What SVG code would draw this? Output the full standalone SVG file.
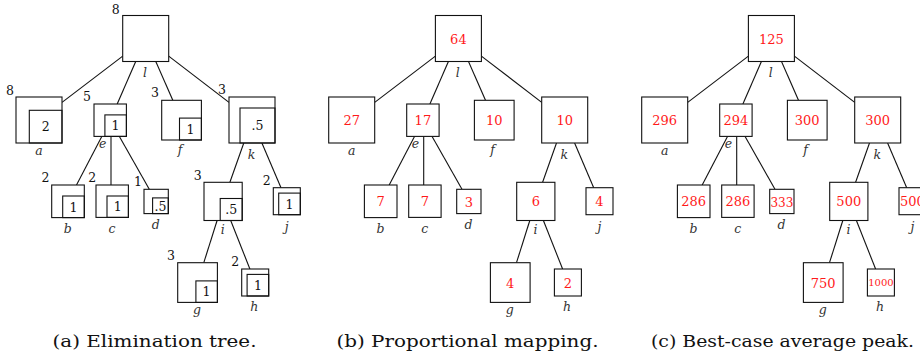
<svg xmlns="http://www.w3.org/2000/svg" width="920" height="360" viewBox="0 0 920 360" font-family="'DejaVu Serif', serif">
<style>
  .box{fill:#fff;stroke:#111;stroke-width:1.1}
  .inner{fill:none;stroke:#111;stroke-width:1.1}
  .edge{stroke:#111;stroke-width:1.1}
  .w{font-family:'DejaVu Serif',serif;font-size:12.5px;text-anchor:middle;fill:#111}
  .v{font-family:'DejaVu Serif',serif;font-size:12.5px;text-anchor:middle;fill:#111}
  .n{font-family:'DejaVu Serif',serif;font-size:12.5px;font-style:italic;text-anchor:middle;fill:#333}
  .r{font-family:'DejaVu Serif',serif;font-size:13px;text-anchor:middle;fill:#ff1a1a}
  .rs{font-family:'DejaVu Serif',serif;font-size:10px;text-anchor:middle;fill:#ff1a1a}
  .cap{font-family:'DejaVu Serif',serif;font-size:17px;fill:#111}
</style>

<!-- Panel (a) -->
<g id="panel-a">
  <g id="a-edges" class="edge">
    <line x1="122.7" y1="56.1" x2="62" y2="102.4"/>
    <line x1="135.7" y1="61.5" x2="117.2" y2="104"/>
    <line x1="155.8" y1="61.5" x2="172.8" y2="100.3"/>
    <line x1="168.7" y1="56.1" x2="229" y2="102.4"/>
    <line x1="101.8" y1="136.4" x2="76.5" y2="185"/>
    <line x1="111" y1="136.4" x2="111" y2="185"/>
    <line x1="119.4" y1="136.4" x2="149.3" y2="189.3"/>
    <line x1="243.8" y1="143" x2="229.9" y2="182.3"/>
    <line x1="261.9" y1="143" x2="281" y2="187.7"/>
    <line x1="217.1" y1="220.5" x2="203.8" y2="262.7"/>
    <line x1="230.7" y1="220.5" x2="249.9" y2="269"/>
  </g>
  <g id="a-l"><rect class="box" x="122.7" y="15.5" width="46" height="46"/><text class="w" x="115.7" y="13.7">8</text><text class="n" x="145" y="76.5">l</text></g>
  <g id="a-a"><rect class="box" x="16" y="97" width="46" height="46"/><rect class="inner" x="29.3" y="110.3" width="32.7" height="32.7"/><text class="v" x="45.7" y="131.4">2</text><text class="w" x="10" y="94.7">8</text><text class="n" x="39" y="155">a</text></g>
  <g id="a-e"><rect class="box" x="94" y="104" width="32.4" height="32.4"/><rect class="inner" x="104.9" y="114.9" width="21.5" height="21.5"/><text class="v" x="115.6" y="130.3">1</text><text class="w" x="87" y="100.7">5</text><text class="n" x="102.7" y="148">e</text></g>
  <g id="a-f"><rect class="box" x="161.7" y="100.3" width="39.7" height="39.7"/><rect class="inner" x="179.5" y="118.1" width="21.9" height="21.9"/><text class="v" x="190.4" y="133.9">1</text><text class="w" x="155" y="96.7">3</text><text class="n" x="180" y="153.5">f</text></g>
  <g id="a-k"><rect class="box" x="229" y="97" width="46" height="46"/><rect class="inner" x="240" y="108" width="35" height="35"/><text class="v" x="257.5" y="130.2">.5</text><text class="w" x="222" y="93.7">3</text><text class="n" x="251.5" y="159">k</text></g>
  <g id="a-b"><rect class="box" x="51.7" y="185" width="32.6" height="32.6"/><rect class="inner" x="62.7" y="196" width="21.6" height="21.6"/><text class="v" x="73.5" y="211.5">1</text><text class="w" x="45.5" y="182">2</text><text class="n" x="67.7" y="233">b</text></g>
  <g id="a-c"><rect class="box" x="96" y="185" width="32.4" height="32.4"/><rect class="inner" x="107" y="196" width="21.4" height="21.4"/><text class="v" x="117.7" y="211.4">1</text><text class="w" x="92.3" y="181.7">2</text><text class="n" x="112" y="233">c</text></g>
  <g id="a-d"><rect class="box" x="144" y="189.3" width="24.3" height="24.3"/><rect class="inner" x="152.6" y="197.9" width="15.7" height="15.7"/><text class="v" x="160.5" y="210.5">.5</text><text class="w" x="138" y="186.4">1</text><text class="n" x="155.7" y="229">d</text></g>
  <g id="a-i"><rect class="box" x="204" y="182.3" width="38.2" height="38.2"/><rect class="inner" x="220.2" y="198.5" width="22" height="22"/><text class="v" x="231.2" y="214.2">.5</text><text class="w" x="197.7" y="179.7">3</text><text class="n" x="222.7" y="234">i</text></g>
  <g id="a-j"><rect class="box" x="273.3" y="187.7" width="27" height="27"/><rect class="inner" x="278.7" y="193.1" width="21.6" height="21.6"/><text class="v" x="289.5" y="208.6">1</text><text class="w" x="266.7" y="184.7">2</text><text class="n" x="286.7" y="231">j</text></g>
  <g id="a-g"><rect class="box" x="177.7" y="262.7" width="39.7" height="39.7"/><rect class="inner" x="195.9" y="280.9" width="21.5" height="21.5"/><text class="v" x="206.6" y="296.4">1</text><text class="w" x="171" y="259.7">3</text><text class="n" x="197" y="313.5">g</text></g>
  <g id="a-h"><rect class="box" x="241.7" y="269" width="27" height="27"/><rect class="inner" x="247.1" y="274.4" width="21.6" height="21.6"/><text class="v" x="257.9" y="289.9">1</text><text class="w" x="235.3" y="265.7">2</text><text class="n" x="254.3" y="310.5">h</text></g>
</g>

<!-- Panel (b) -->
<g id="panel-b" transform="translate(312.7,0)">
  <g id="b-edges" class="edge">
    <line x1="122.7" y1="56.1" x2="62" y2="102.4"/>
    <line x1="135.7" y1="61.5" x2="117.2" y2="104"/>
    <line x1="155.8" y1="61.5" x2="172.8" y2="100.3"/>
    <line x1="168.7" y1="56.1" x2="229" y2="102.4"/>
    <line x1="101.8" y1="136.4" x2="76.5" y2="185"/>
    <line x1="111" y1="136.4" x2="111" y2="185"/>
    <line x1="119.4" y1="136.4" x2="149.3" y2="189.3"/>
    <line x1="243.8" y1="143" x2="229.9" y2="182.3"/>
    <line x1="261.9" y1="143" x2="281" y2="187.7"/>
    <line x1="217.1" y1="220.5" x2="203.8" y2="262.7"/>
    <line x1="230.7" y1="220.5" x2="249.9" y2="269"/>
  </g>
  <g id="b-l"><rect class="box" x="122.7" y="15.5" width="46" height="46"/><text class="r" x="145.7" y="43.5">64</text><text class="n" x="145" y="76.5">l</text></g>
  <g id="b-a"><rect class="box" x="16" y="97" width="46" height="46"/><text class="r" x="39" y="125">27</text><text class="n" x="39" y="155">a</text></g>
  <g id="b-e"><rect class="box" x="94" y="104" width="32.4" height="32.4"/><text class="r" x="110.2" y="125.2">17</text><text class="n" x="102.7" y="148">e</text></g>
  <g id="b-f"><rect class="box" x="161.7" y="100.3" width="39.7" height="39.7"/><text class="r" x="181.5" y="125.2">10</text><text class="n" x="180" y="153.5">f</text></g>
  <g id="b-k"><rect class="box" x="229" y="97" width="46" height="46"/><text class="r" x="252" y="125">10</text><text class="n" x="251.5" y="159">k</text></g>
  <g id="b-b"><rect class="box" x="51.7" y="185" width="32.6" height="32.6"/><text class="r" x="68" y="206.3">7</text><text class="n" x="67.7" y="233">b</text></g>
  <g id="b-c"><rect class="box" x="96" y="185" width="32.4" height="32.4"/><text class="r" x="112.2" y="206.2">7</text><text class="n" x="112" y="233">c</text></g>
  <g id="b-d"><rect class="box" x="144" y="189.3" width="24.3" height="24.3"/><text class="r" x="156.2" y="206.5">3</text><text class="n" x="155.7" y="229">d</text></g>
  <g id="b-i"><rect class="box" x="204" y="182.3" width="38.2" height="38.2"/><text class="r" x="223.1" y="206.4">6</text><text class="n" x="222.7" y="234">i</text></g>
  <g id="b-j"><rect class="box" x="273.3" y="187.7" width="27" height="27"/><text class="r" x="286.8" y="206.2">4</text><text class="n" x="286.7" y="231">j</text></g>
  <g id="b-g"><rect class="box" x="177.7" y="262.7" width="39.7" height="39.7"/><text class="r" x="197.5" y="287.5">4</text><text class="n" x="197" y="313.5">g</text></g>
  <g id="b-h"><rect class="box" x="241.7" y="269" width="27" height="27"/><text class="r" x="255.2" y="287.5">2</text><text class="n" x="254.3" y="310.5">h</text></g>
</g>

<!-- Panel (c) -->
<g id="panel-c" transform="translate(625.7,0)">
  <g id="c-edges" class="edge">
    <line x1="122.7" y1="56.1" x2="62" y2="102.4"/>
    <line x1="135.7" y1="61.5" x2="117.2" y2="104"/>
    <line x1="155.8" y1="61.5" x2="172.8" y2="100.3"/>
    <line x1="168.7" y1="56.1" x2="229" y2="102.4"/>
    <line x1="101.8" y1="136.4" x2="76.5" y2="185"/>
    <line x1="111" y1="136.4" x2="111" y2="185"/>
    <line x1="119.4" y1="136.4" x2="149.3" y2="189.3"/>
    <line x1="243.8" y1="143" x2="229.9" y2="182.3"/>
    <line x1="261.9" y1="143" x2="281" y2="187.7"/>
    <line x1="217.1" y1="220.5" x2="203.8" y2="262.7"/>
    <line x1="230.7" y1="220.5" x2="249.9" y2="269"/>
  </g>
  <g id="c-l"><rect class="box" x="122.7" y="15.5" width="46" height="46"/><text class="r" x="145.7" y="43.5">125</text><text class="n" x="145" y="76.5">l</text></g>
  <g id="c-a"><rect class="box" x="16" y="97" width="46" height="46"/><text class="r" x="39" y="125">296</text><text class="n" x="39" y="155">a</text></g>
  <g id="c-e"><rect class="box" x="94" y="104" width="32.4" height="32.4"/><text class="r" x="110.2" y="125.2">294</text><text class="n" x="102.7" y="148">e</text></g>
  <g id="c-f"><rect class="box" x="161.7" y="100.3" width="39.7" height="39.7"/><text class="r" x="181.5" y="125.2">300</text><text class="n" x="180" y="153.5">f</text></g>
  <g id="c-k"><rect class="box" x="229" y="97" width="46" height="46"/><text class="r" x="252" y="125">300</text><text class="n" x="251.5" y="159">k</text></g>
  <g id="c-b"><rect class="box" x="51.7" y="185" width="32.6" height="32.6"/><text class="r" x="68" y="206.3">286</text><text class="n" x="67.7" y="233">b</text></g>
  <g id="c-c"><rect class="box" x="96" y="185" width="32.4" height="32.4"/><text class="r" x="112.2" y="206.2">286</text><text class="n" x="112" y="233">c</text></g>
  <g id="c-d"><rect class="box" x="144" y="189.3" width="24.3" height="24.3"/><text class="r" x="156.2" y="206.5" textLength="23" lengthAdjust="spacingAndGlyphs">333</text><text class="n" x="155.7" y="229">d</text></g>
  <g id="c-i"><rect class="box" x="204" y="182.3" width="38.2" height="38.2"/><text class="r" x="223.1" y="206.4">500</text><text class="n" x="222.7" y="234">i</text></g>
  <g id="c-j"><rect class="box" x="273.3" y="187.7" width="27" height="27"/><text class="r" x="286.8" y="206.2">500</text><text class="n" x="286.7" y="231">j</text></g>
  <g id="c-g"><rect class="box" x="177.7" y="262.7" width="39.7" height="39.7"/><text class="r" x="197.5" y="287.5">750</text><text class="n" x="197" y="313.5">g</text></g>
  <g id="c-h"><rect class="box" x="241.7" y="269" width="27" height="27"/><text class="rs" x="255.2" y="286.2">1000</text><text class="n" x="254.3" y="310.5">h</text></g>
</g>

<!-- Captions -->
<g id="captions">
  <text class="cap" x="52.5" y="347" textLength="204" lengthAdjust="spacingAndGlyphs">(a) Elimination tree.</text>
  <text class="cap" x="336.5" y="347" textLength="262" lengthAdjust="spacingAndGlyphs">(b) Proportional mapping.</text>
  <text class="cap" x="651" y="347" textLength="263" lengthAdjust="spacingAndGlyphs">(c) Best-case average peak.</text>
</g>
</svg>
